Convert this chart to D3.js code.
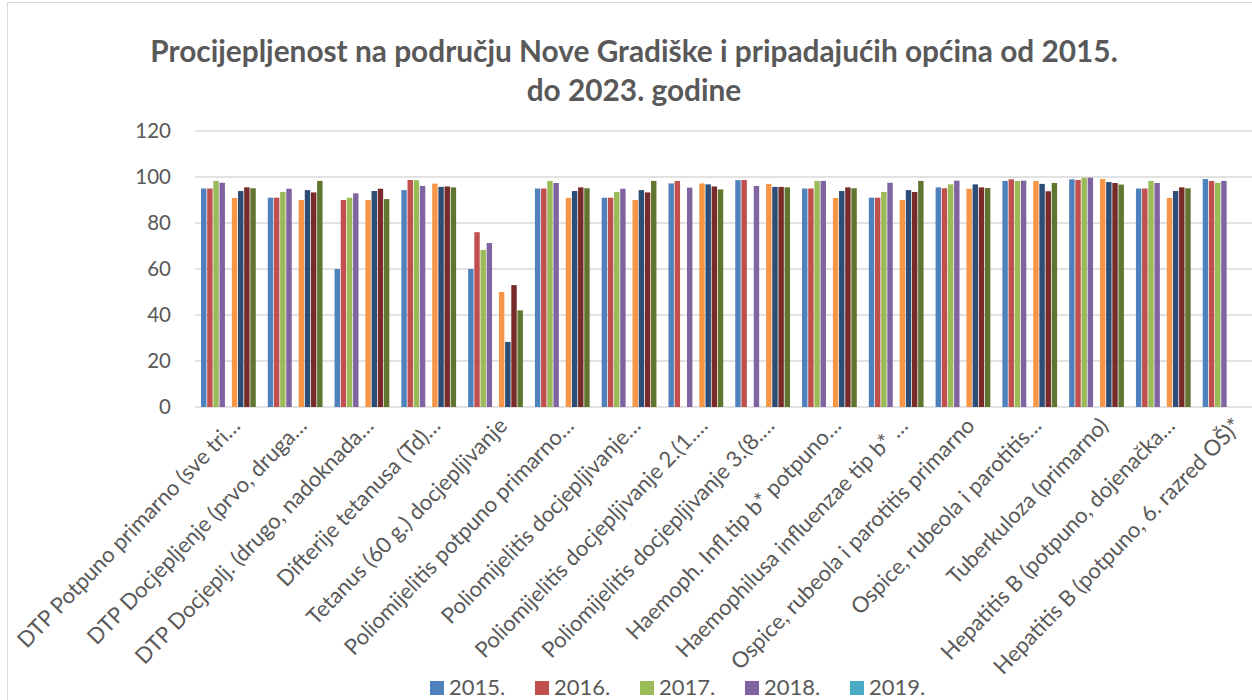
<!DOCTYPE html>
<html>
<head>
<meta charset="utf-8">
<script src="https://cdn.jsdelivr.net/npm/d3@7"></script>
<style>
  body { margin: 0; background: #fff; }
  svg { display: block; font-family: Lato, "Open Sans", sans-serif; }
</style>
</head>
<body>
<div id="chart"></div>
<script>
// data
const categories = [
  "DTP Potpuno primarno (sve tri…",
  "DTP Docjepljenje (prvo, druga…",
  "DTP Docjeplj. (drugo, nadoknada…",
  "Difterije tetanusa (Td)…",
  "Tetanus (60 g.) docjepljivanje",
  "Poliomijelitis potpuno primarno…",
  "Poliomijelitis docjepljivanje…",
  "Poliomijelitis docjepljivanje 2.(1.…",
  "Poliomijelitis docjepljivanje 3.(8.…",
  "Haemoph. Infl.tip b* potpuno…",
  "Haemophilusa influenzae tip b* …",
  "Ospice, rubeola i parotitis primarno",
  "Ospice, rubeola i parotitis…",
  "Tuberkuloza (primarno)",
  "Hepatitis B (potpuno, dojenačka…",
  "Hepatitis B (potpuno, 6. razred OŠ)*"
]
const years = ["2015.", "2016.", "2017.", "2018.", "2019.", "2020.", "2021.", "2022.", "2023."]
const colors = ["#4F81BD", "#C0504D", "#9BBB59", "#8064A2", "#4BACC6", "#F79646", "#2C4D75", "#772C2A", "#5F7530"]
// only the first legend row is visible in the picture
const legendYears = ["2015.", "2016.", "2017.", "2018.", "2019."]

const v2015 = [95, 91, 60, 94.3, 60, 95, 91, 97.2, 98.6, 95, 91, 95.5, 98.3, 99, 95, 99.1]
const v2016 = [95, 91, 90, 98.7, 76, 95, 91, 98.3, 98.7, 95, 91, 95.1, 99, 98.7, 95, 98.3]
const v2017 = [98.3, 93.5, 91, 98.6, 68.3, 98.3, 93.5, null, null, 98.3, 93.5, 96.8, 98.3, 99.7, 98.3, 97.5]
const v2018 = [97.5, 94.9, 92.9, 96.1, 71.3, 97.4, 94.9, 95.4, 96.1, 98.3, 97.5, 98.4, 98.4, 99.7, 97.4, 98.3]
const v2019 = [null, null, null, null, null, null, null, null, null, null, null, null, null, null, null, null]
const v2020 = [90.9, 90, 90, 97.1, 50, 90.9, 90, 97.2, 97, 90.9, 90, 94.9, 98.3, 99.1, 90.9, null]
const v2021 = [93.9, 94.3, 93.9, 95.7, 28.3, 93.9, 94.3, 96.8, 95.7, 93.9, 94.3, 96.8, 97, 97.8, 93.9, null]
const v2022 = [95.5, 93.3, 94.9, 95.9, 53, 95.5, 93.3, 95.9, 95.7, 95.5, 93.5, 95.5, 93.8, 97.4, 95.5, null]
const v2023 = [95.1, 98.3, 90.4, 95.5, 42, 95.1, 98.3, 94.6, 95.5, 95.1, 98.3, 95.2, 97.4, 96.7, 95.1, null]
const yTicks = [0, 20, 40, 60, 80, 100, 120]

const series = [v2015, v2016, v2017, v2018, v2019, v2020, v2021, v2022, v2023]

const W = 1252, H = 700
const svg = d3.select("#chart").append("svg")
  .attr("width", W)
  .attr("height", H)

// chart border (right and bottom edges lie outside the visible area)
svg.append("rect")
  .attr("x", 7.5).attr("y", 2.5)
  .attr("width", 1262).attr("height", 740)
  .attr("fill", "none")
  .attr("stroke", "#D9D9D9")

// title
const title = svg.append("text")
  .attr("text-anchor", "middle")
  .attr("fill", "#595959")
  .attr("font-weight", "bold")
  .attr("font-size", 24)
title.append("tspan").attr("x", 634).attr("y", 62)
  .text("Procijepljenost na području Nove Gradiške i pripadajućih općina od 2015.")
title.append("tspan").attr("x", 634).attr("y", 101)
  .text("do 2023. godine")
// fit first title line to the width seen in the picture
let tl = title.select("tspan").node().getComputedTextLength()
title.attr("font-size", 24 * 968 / tl)

const plotLeft = 195, step = 66.78
const x0 = d3.scaleBand()
  .domain(d3.range(categories.length))
  .range([plotLeft, plotLeft + step * categories.length])
  .paddingInner(0.158)
  .paddingOuter(0.079)
const x1 = d3.scaleBand()
  .domain(d3.range(years.length))
  .range([0, x0.bandwidth()])
  .padding(0.12)
const y = d3.scaleLinear().domain([0, 120]).range([407, 131])

// gridlines
svg.append("g")
  .selectAll("line")
  .data(yTicks)
  .join("line")
  .attr("x1", plotLeft).attr("x2", W)
  .attr("y1", d => y(d)).attr("y2", d => y(d))
  .attr("stroke", "#D9D9D9")
  .attr("stroke-width", 1.5)

// y labels
svg.append("g")
  .selectAll("text")
  .data(yTicks)
  .join("text")
  .attr("x", 171)
  .attr("y", d => y(d))
  .attr("dy", "0.35em")
  .attr("text-anchor", "end")
  .attr("font-size", 20.5)
  .attr("fill", "#595959")
  .text(d => d)

// bars
const groups = svg.append("g")
  .selectAll("g")
  .data(series)
  .join("g")
  .attr("fill", (d, i) => colors[i])

groups.selectAll("rect")
  .data((d, si) => d.map((v, ci) => ({ v, ci, si })).filter(e => e.v != null))
  .join("rect")
  .attr("x", d => x0(d.ci) + x1(d.si))
  .attr("y", d => y(d.v))
  .attr("width", x1.bandwidth())
  .attr("height", d => y(0) - y(d.v))

// x labels
svg.append("g")
  .selectAll("text")
  .data(categories)
  .join("text")
  .attr("transform", (d, i) => `translate(${x0(i) + x0.bandwidth() / 2 + 13},${y(0) + 20}) rotate(-46)`)
  .attr("text-anchor", "end")
  .attr("font-size", 22)
  .attr("fill", "#595959")
  .text(d => d)

// legend
const legend = svg.append("g")
  .selectAll("g")
  .data(legendYears)
  .join("g")
  .attr("transform", (d, i) => `translate(${430 + i * 105},681)`)
legend.append("rect")
  .attr("width", 14).attr("height", 14)
  .attr("fill", (d, i) => colors[i])
legend.append("text")
  .attr("x", 19).attr("y", 14)
  .attr("font-size", 22)
  .attr("fill", "#595959")
  .text(d => d)
</script>
</body>
</html>
